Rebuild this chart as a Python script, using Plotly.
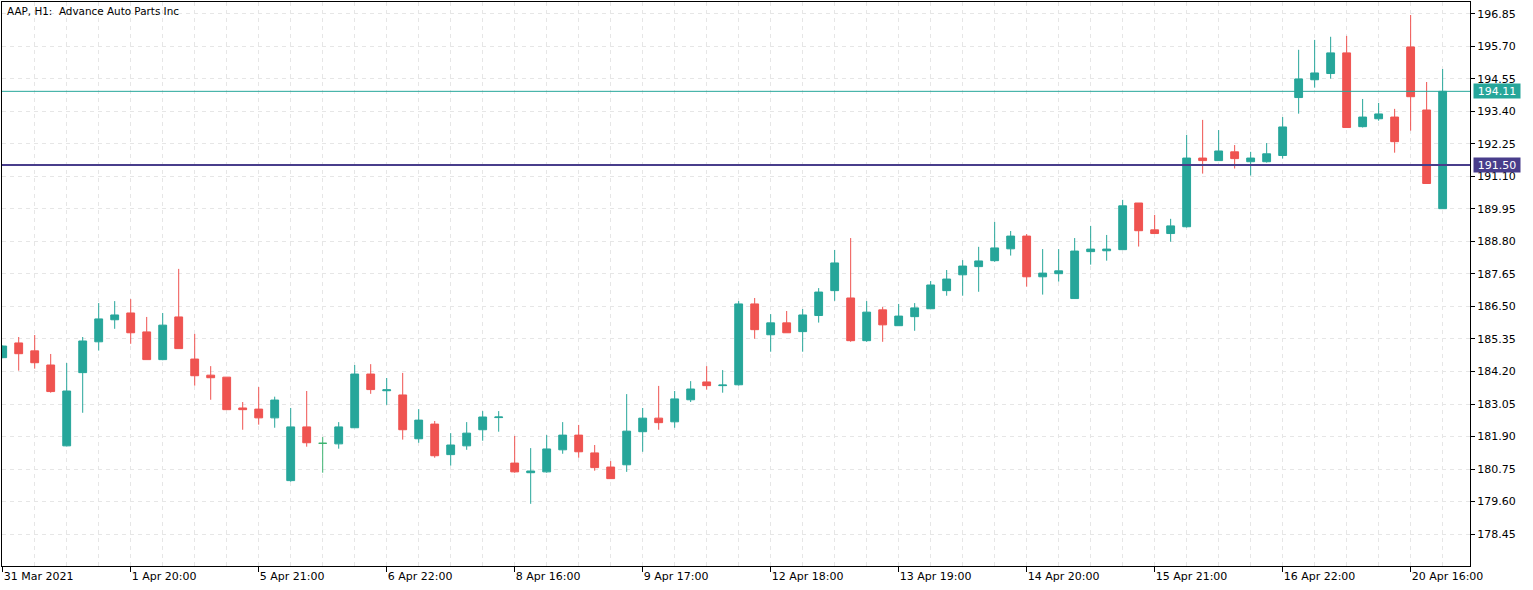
import plotly.graph_objects as go

# ---------------- data ----------------
sessions = [
    ("31 Mar", [19, 20, 21, 22]),
    ("1 Apr", [16, 17, 18, 19, 20, 21, 22]),
    ("5 Apr", [16, 17, 18, 19, 20, 21, 22]),
    ("6 Apr", [16, 17, 18, 19, 20, 21, 22]),
    ("7 Apr", [16, 17, 18, 19, 20, 21, 22]),
    ("8 Apr", [16, 17, 18, 19, 20, 21, 22]),
    ("9 Apr", [16, 17, 18, 19, 20, 21, 22]),
    ("12 Apr", [16, 17, 18, 19, 20, 21, 22]),
    ("13 Apr", [16, 17, 18, 19, 20, 21, 22]),
    ("14 Apr", [16, 17, 18, 19, 20, 21, 22]),
    ("15 Apr", [16, 17, 18, 19, 20, 21, 22]),
    ("16 Apr", [16, 17, 18, 19, 20, 21, 22]),
    ("19 Apr", [16, 17, 18, 19, 20, 21, 22]),
    ("20 Apr", [16, 17, 18]),
]
times = [f"{d} {h:02d}:00" for d, hours in sessions for h in hours]

opens = [184.69, 185.21, 184.93, 184.43, 181.57, 184.16, 185.25, 186.03, 186.27, 185.60,
         184.62, 186.13, 184.64, 184.07, 184.00, 182.91, 182.87, 182.56, 180.34, 182.24,
         181.66, 181.64, 182.21, 184.11, 183.52, 183.37, 181.82, 182.34, 181.26, 181.57,
         182.14, 182.57, 180.96, 180.62, 180.65, 181.43, 181.95, 181.32, 180.82, 180.90,
         182.07, 182.55, 182.42, 183.20, 183.83, 183.70, 183.73, 186.59, 185.50, 185.92,
         185.61, 186.18, 187.06, 186.80, 185.29, 186.38, 185.82, 186.14, 186.42, 187.06,
         187.62, 187.91, 188.12, 188.54, 188.99, 187.55, 187.66, 186.78, 188.44, 188.47,
         188.51, 190.16, 189.21, 189.08, 189.32, 191.75, 191.66, 191.97, 191.62, 191.62,
         191.84, 193.89, 194.52, 194.74, 195.47, 192.86, 193.14, 193.20, 195.68, 193.45,
         189.96]
highs = [185.12, 185.42, 185.49, 184.82, 184.50, 185.42, 186.62, 186.69, 186.76, 186.13,
         186.27, 187.83, 185.53, 184.39, 184.00, 183.12, 183.65, 183.31, 182.91, 183.51,
         181.88, 182.41, 184.43, 184.46, 183.97, 184.15, 182.87, 182.45, 182.02, 182.41,
         182.80, 182.80, 181.92, 181.49, 181.95, 182.41, 182.31, 181.60, 181.03, 183.40,
         182.91, 183.69, 183.51, 183.86, 184.39, 184.25, 186.69, 186.80, 186.23, 186.34,
         186.41, 187.15, 188.50, 188.92, 186.69, 186.48, 186.59, 186.62, 187.40, 187.79,
         188.14, 188.61, 189.49, 189.17, 189.06, 188.53, 188.53, 188.92, 189.35, 189.03,
         190.27, 190.16, 189.74, 189.60, 192.57, 193.10, 192.74, 192.21, 191.97, 192.28,
         193.20, 195.58, 195.93, 196.04, 196.07, 193.84, 193.70, 193.49, 196.81, 194.44,
         194.90]
lows = [184.67, 184.23, 184.30, 183.45, 181.55, 182.74, 184.94, 185.71, 185.18, 184.62,
        184.60, 185.01, 183.70, 183.20, 182.85, 182.14, 182.32, 182.21, 180.30, 181.54,
        180.62, 181.47, 182.21, 183.41, 183.02, 181.79, 181.68, 181.15, 180.87, 181.43,
        181.75, 182.07, 180.62, 179.52, 180.62, 181.29, 181.15, 180.69, 180.41, 180.65,
        181.36, 182.14, 182.21, 183.12, 183.56, 183.45, 183.70, 185.36, 184.90, 185.57,
        184.90, 185.93, 186.70, 185.25, 185.25, 185.25, 185.82, 185.64, 186.42, 186.88,
        186.88, 187.02, 188.08, 188.30, 187.20, 186.92, 187.38, 186.78, 187.98, 188.12,
        188.51, 188.62, 189.08, 188.79, 189.29, 191.20, 191.66, 191.38, 191.13, 191.59,
        191.73, 193.32, 194.24, 194.56, 192.83, 192.83, 193.07, 191.94, 192.72, 190.85,
        189.96]
closes = [185.10, 184.83, 184.51, 183.49, 183.51, 185.28, 186.06, 186.20, 185.57, 184.62,
          185.84, 185.01, 184.05, 183.98, 182.85, 182.85, 182.56, 183.19, 182.24, 181.68,
          181.66, 182.24, 184.11, 183.56, 183.55, 182.14, 182.48, 181.22, 181.60, 182.02,
          182.59, 182.59, 180.65, 180.68, 181.46, 181.95, 181.36, 180.80, 180.41, 182.09,
          182.55, 182.39, 183.23, 183.58, 183.70, 183.72, 186.59, 185.68, 185.92, 185.57,
          186.20, 187.01, 188.04, 185.29, 186.30, 185.85, 186.16, 186.45, 187.26, 187.47,
          187.93, 188.11, 188.57, 188.99, 187.55, 187.68, 187.76, 188.46, 188.53, 188.53,
          190.06, 189.18, 189.08, 189.35, 191.75, 191.66, 192.00, 191.73, 191.75, 191.90,
          192.85, 194.55, 194.76, 195.47, 192.83, 193.20, 193.31, 192.33, 193.92, 190.85,
          194.11]

tick_labels = ["31 Mar 2021", "1 Apr 20:00", "5 Apr 21:00", "6 Apr 22:00", "8 Apr 16:00",
               "9 Apr 17:00", "12 Apr 18:00", "13 Apr 19:00", "14 Apr 20:00",
               "15 Apr 21:00", "16 Apr 22:00", "20 Apr 16:00"]
tick_times = ["31 Mar 19:00", "1 Apr 20:00", "5 Apr 21:00", "6 Apr 22:00", "8 Apr 16:00",
              "9 Apr 17:00", "12 Apr 18:00", "13 Apr 19:00", "14 Apr 20:00",
              "15 Apr 21:00", "16 Apr 22:00", "20 Apr 16:00"]

bid_price = 194.11
level_price = 191.50
title_text = "AAP, H1:  Advance Auto Parts Inc"

# ---------------- styling ----------------
UP = "#26a69a"
DOWN = "#ef5350"
DOJI = "#3cb371"
LEVEL = "#483d8b"
GRID = "#e6e6e6"
FONT = "DejaVu Sans"

idx = list(range(len(times)))
main = [i for i in idx if opens[i] != closes[i]]
doji = [i for i in idx if opens[i] == closes[i]]


def pick(arr, ids):
    return [arr[i] for i in ids]


fig = go.Figure()
fig.add_trace(go.Candlestick(
    x=main, open=pick(opens, main), high=pick(highs, main),
    low=pick(lows, main), close=pick(closes, main),
    text=pick(times, main), hoverinfo="text+y",
    increasing=dict(line=dict(color=UP, width=1), fillcolor=UP),
    decreasing=dict(line=dict(color=DOWN, width=1), fillcolor=DOWN),
    whiskerwidth=0, showlegend=False,
))
if doji:
    fig.add_trace(go.Candlestick(
        x=doji, open=pick(opens, doji), high=pick(highs, doji),
        low=pick(lows, doji), close=pick(closes, doji),
        text=pick(times, doji), hoverinfo="text+y",
        increasing=dict(line=dict(color=DOJI, width=1), fillcolor=DOJI),
        decreasing=dict(line=dict(color=DOJI, width=1), fillcolor=DOJI),
        whiskerwidth=0, showlegend=False,
    ))

tickvals = [times.index(t) for t in tick_times]

fig.add_hline(y=bid_price, line=dict(color=UP, width=1), layer="above")
fig.add_hline(y=level_price, line=dict(color=LEVEL, width=2), layer="above")

for price, col in [(bid_price, UP), (level_price, LEVEL)]:
    fig.add_annotation(x=1, xref="paper", y=price, yref="y", xanchor="left",
                       yanchor="middle", xshift=3, text=f"{price:.2f}",
                       showarrow=False, bgcolor=col, width=44, height=12,
                       borderpad=1, font=dict(family=FONT, size=11, color="white"))

fig.add_annotation(x=0, xref="paper", y=1, yref="paper", xanchor="left", yanchor="top",
                   xshift=3, yshift=-1, text=title_text, showarrow=False,
                   font=dict(family=FONT, size=10.4, color="black"))

fig.update_layout(
    width=1533, height=590,
    margin=dict(l=2, r=63, t=2, b=24),
    paper_bgcolor="white", plot_bgcolor="white",
    boxgap=0.3,
    font=dict(family=FONT, size=11, color="black"),
    xaxis=dict(
        range=[-0.044, 91.71], rangeslider=dict(visible=False),
        tickmode="array", tickvals=tickvals, ticktext=tick_labels,
        ticklabelposition="outside right", ticks="outside", ticklen=5,
        tickcolor="black", tickfont=dict(family=FONT, size=11, color="black"),
        showgrid=True, gridcolor=GRID, griddash="4px,4px", gridwidth=1,
        minor=dict(tickmode="linear", tick0=0, dtick=2, showgrid=True,
                   gridcolor=GRID, griddash="4px,4px", ticks=""),
        showline=True, linecolor="black", linewidth=1, mirror=True,
        zeroline=False, fixedrange=True,
    ),
    yaxis=dict(
        range=[177.32, 197.27], side="right",
        tickmode="linear", tick0=178.45, dtick=1.15, tickformat=".2f",
        ticks="outside", ticklen=4, tickcolor="black",
        tickfont=dict(family=FONT, size=11, color="black"),
        showgrid=True, gridcolor=GRID, griddash="4px,4px", gridwidth=1,
        showline=True, linecolor="black", linewidth=1, mirror=True,
        zeroline=False, fixedrange=True,
    ),
)

fig.write_html("out.html")
